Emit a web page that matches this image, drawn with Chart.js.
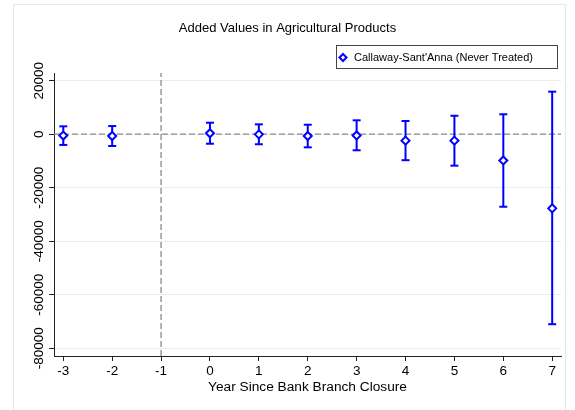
<!DOCTYPE html>
<html>
<head>
<meta charset="utf-8">
<script src="https://cdn.jsdelivr.net/npm/chart.js@4/dist/chart.umd.min.js"></script>
<style>
body{margin:0;background:#fff}
</style>
</head>
<body>
<canvas id="c" width="575" height="410"></canvas>
<script>

// event-study estimates
const years=[-3,-2,0,1,2,3,4,5,6,7]
const coef=[-500,-650,350,-50,-650,-450,-2400,-2400,-9800,-27700]
const ciLow=[-4000,-4400,-3550,-3750,-4900,-6000,-9700,-11750,-27100,-71000]
const ciHigh=[2950,3050,4300,3700,3550,5200,4950,6900,7450,15900]

const xTicks=[-3,-2,-1,0,1,2,3,4,5,6,7]
const yTicks=[20000,0,-20000,-40000,-60000,-80000]
const xMin=-3.19,xMax=7.18
const yMin=-82880,yMax=22880
const closeYear=-1

const F="'Liberation Sans', Arial, Helvetica, sans-serif"
const blue='#0000ff'

let bars=[]
years.forEach((yr,i)=>{
bars.push({x:yr,y:ciLow[i]},{x:yr,y:ciHigh[i]},{x:yr,y:null})
})

const frame={
id:'frame',
beforeDraw(c){
let ctx=c.ctx
ctx.save()
ctx.strokeStyle='#e3eaee'
ctx.lineWidth=1
ctx.strokeRect(13.5,4.5,552,440)
ctx.restore()
}
}

// move legend left a bit and put a box round it
const legendBox={
id:'legendBox',
afterLayout(c){
c.legend.left-=20
c.legend.right-=20
},
afterDraw(c){
let h=c.legend.legendHitBoxes[0]
if(!h)return
let ctx=c.ctx
let cy=h.top+5.5
let l=Math.round(h.left-1.5)+0.5
let r=Math.round(h.left+h.width+24)+0.5
let t=Math.round(cy-13)+0.5
let b=Math.round(cy+10)+0.5
ctx.save()
ctx.strokeStyle='#444'
ctx.lineWidth=1
ctx.strokeRect(l,t,r-l,b-t)
ctx.restore()
}
}

new Chart(document.getElementById('c'),{
type:'scatter',
data:{
datasets:[
{
label:"Callaway-Sant'Anna (Never Treated)",
data:years.map((yr,i)=>({x:yr,y:coef[i]})),
pointStyle:'rectRot',
pointRadius:4,
pointBorderWidth:2,
borderWidth:2,
borderColor:blue,
backgroundColor:'#fff'
},
{
type:'line',
label:'',
data:bars,
showLine:true,
spanGaps:false,
borderColor:blue,
borderWidth:2,
pointStyle:'line',
pointRadius:4,
pointBorderWidth:2,
pointBorderColor:blue,
pointBackgroundColor:blue
},
{
type:'line',
label:'',
data:[{x:xMin,y:0},{x:xMax,y:0}],
borderColor:'#8a8a8a',
borderWidth:1.3,
borderDash:[6,3],
pointRadius:0
},
{
type:'line',
label:'',
data:[{x:closeYear,y:yMin},{x:closeYear,y:yMax}],
borderColor:'#8a8a8a',
borderWidth:1.3,
borderDash:[6,3],
pointRadius:0
}
]
},
options:{
responsive:false,
animation:false,
layout:{padding:{left:14,right:14,top:0,bottom:0}},
plugins:{
tooltip:{enabled:false},
title:{
display:true,
text:'Added Values in Agricultural Products',
color:'#000',
font:{size:13,weight:'normal',family:F},
padding:{top:20.7,bottom:7.7}
},
legend:{
position:'top',
align:'end',
labels:{
usePointStyle:true,
boxWidth:12,
boxHeight:5,
padding:8,
color:'#000',
font:{size:11,family:F},
filter:it=>it.datasetIndex===0
}
}
},
scales:{
x:{
type:'linear',
min:xMin,
max:xMax,
afterBuildTicks:s=>{s.ticks=xTicks.map(v=>({value:v}))},
afterFit:s=>{s.height=54},
grid:{drawOnChartArea:false,tickLength:5,tickColor:'#222',tickWidth:1},
border:{color:'#222',width:1},
ticks:{color:'#000',font:{size:13.5,family:F},padding:2.5,maxRotation:0,autoSkip:false,callback:v=>String(v)},
title:{display:true,text:'Year Since Bank Branch Closure',color:'#000',font:{size:13.7,family:F},padding:{top:0,bottom:14.3}}
},
y:{
type:'linear',
min:yMin,
max:yMax,
afterBuildTicks:s=>{s.ticks=yTicks.map(v=>({value:v}))},
afterFit:s=>{s.width=40},
grid:{color:'#e6edf1',tickColor:'#222',tickLength:5,tickWidth:1},
border:{color:'#222',width:1},
ticks:{color:'#000',font:{size:13.5,family:F},minRotation:90,maxRotation:90,crossAlign:'center',align:'end',padding:-18,autoSkip:false,callback:v=>String(v)}
}
}
},
plugins:[frame,legendBox]
})

</script>
</body>
</html>
